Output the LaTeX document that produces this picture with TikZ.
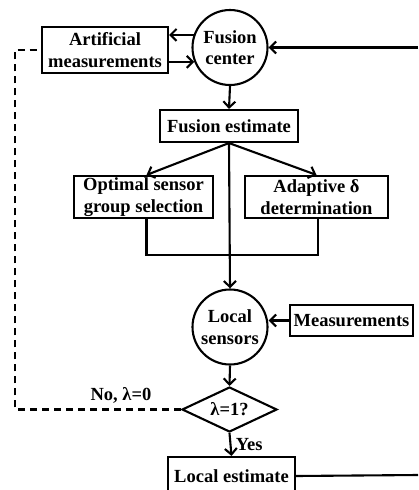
\documentclass[tikz,border=0pt]{standalone}
\usepackage{fontspec}
\setmainfont{Liberation Serif}
\usetikzlibrary{arrows.meta,shapes.geometric}

\tikzset{
  box/.style={draw, rectangle, inner sep=0pt, align=center, fill=white},
  circnode/.style={draw, circle, minimum size=75pt, inner sep=0pt, align=center, fill=white},
  decide/.style={draw, diamond, aspect=2.1, minimum width=95pt, minimum height=45pt, inner sep=0pt, fill=white},
  fback/.style={dash pattern=on 7pt off 5pt}
}

\begin{document}
\begin{tikzpicture}[x=1pt, y=-1pt, line width=2.1pt,
  font=\fontsize{18.5}{21.5}\selectfont\bfseries,
  >={Straight Barb[length=6pt,width=12pt]}]
\useasboundingbox (0,0) rectangle (418,490);

% nodes
\node[box, minimum width=126pt, minimum height=46pt] (artif) at (105,50) {Artificial\\measurements};
\node[circnode] (fcenter) at (230,47.5) {Fusion\\center};
\node[box, minimum width=138pt, minimum height=32pt] (festim) at (229,126) {Fusion estimate};
\node[box, minimum width=139pt, minimum height=42pt] (optsel) at (143.5,197) {Optimal sensor\\group selection};
\node[box, minimum width=143pt, minimum height=42pt] (adapt) at (316.5,197) {Adaptive δ\\determination};
\node[circnode] (lsens) at (230,327) {Local\\sensors};
\node[box, minimum width=123pt, minimum height=31pt] (meas) at (351.5,320.5) {Measurements};
\node[decide] (check) at (229.5,409.5) {λ=1?};
\node[box, minimum width=127pt, minimum height=38pt] (lestim) at (231.5,476) {Local estimate};

\coordinate (fright) at (418,47.5);
\coordinate (lright) at (418,475);
\coordinate (dleft) at (15,409.5);

% connectors
\draw[->] (fcenter.161) -- (fcenter.161 -| artif.east);
\draw[->] (artif.east |- fcenter.202) -- (fcenter.202);
\draw[->] (fright) -- (fcenter.east);
\draw[->] (fcenter.south) -- (festim.north);
\draw[->] (festim.south) -- ([xshift=3pt]optsel.north);
\draw[->] (festim.south) -- (adapt.north);
\draw[->] (festim.south) -- (lsens.north);
\draw ([xshift=3pt]optsel.south) -- ++(0,36) -| ([xshift=1.5pt]adapt.south);
\draw[->] (meas.west) -- (lsens.east |- meas.west);
\draw[->] (lsens.south) -- (check.north);
\draw[->] (check.south) -- (lestim.north) node[midway, right=1pt] {Yes};
\draw[fback] (check.west) -- (dleft) |- (artif.west);
\node[above=2pt] (nolabel) at (121,409.5) {No, λ=0};
\draw (lestim.east) -- (lright);
\end{tikzpicture}
\end{document}
